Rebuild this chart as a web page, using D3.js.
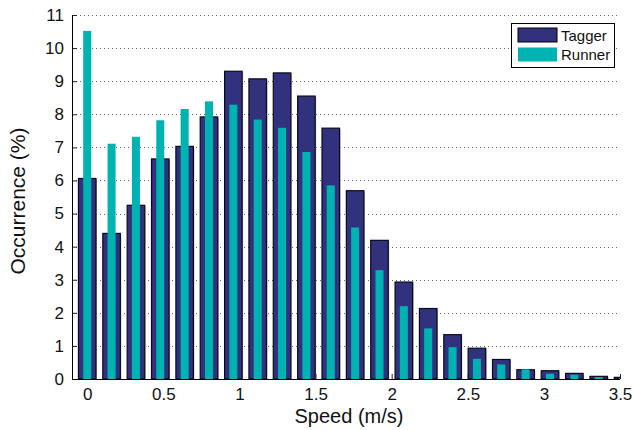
<!DOCTYPE html>
<html>
<head>
<meta charset="utf-8">
<script src="https://cdn.jsdelivr.net/npm/d3@7"></script>
<style>
  body { margin: 0; background: #fff; }
  text { font-family: "Liberation Sans", Arial, sans-serif; }
</style>
</head>
<body>
<script>
// bin centres (m/s)
var speeds = [0, 0.16, 0.32, 0.48, 0.64, 0.8, 0.96, 1.12, 1.28, 1.44, 1.6, 1.76,
              1.92, 2.08, 2.24, 2.4, 2.56, 2.72, 2.88, 3.04, 3.2, 3.36, 3.52];
var tagger = [6.06, 4.40, 5.25, 6.65, 7.03, 7.92, 9.30, 9.07, 9.25, 8.55, 7.58, 5.69,
              4.19, 2.93, 2.13, 1.34, 0.93, 0.59, 0.28, 0.25, 0.17, 0.08, 0.05];
var runner = [10.52, 7.11, 7.32, 7.82, 8.16, 8.39, 8.29, 7.84, 7.59, 6.86, 5.85, 4.58,
              3.29, 2.20, 1.53, 0.96, 0.61, 0.44, 0.29, 0.16, 0.13, 0.06, 0.03];
var xTicks = [0, 0.5, 1, 1.5, 2, 2.5, 3, 3.5];
var yTicks = [0, 1, 2, 3, 4, 5, 6, 7, 8, 9, 10, 11];
var seriesNames = ["Tagger", "Runner"];

var W = 634, H = 430;
var margin = {top: 15, right: 14, bottom: 51, left: 72};
var width = W - margin.left - margin.right;
var height = H - margin.top - margin.bottom;

var colors = {Tagger: "#32317e", Runner: "#00b3b3"};

var svg = d3.select("body").append("svg")
    .attr("width", W)
    .attr("height", H);

var g = svg.append("g")
    .attr("transform", "translate(" + margin.left + "," + margin.top + ")");

var xScale = d3.scaleLinear().domain([-0.1, 3.5]).range([0, width]);
var yScale = d3.scaleLinear().domain([0, 11]).range([height, 0]);

g.append("clipPath").attr("id", "plotclip")
  .append("rect").attr("width", width).attr("height", height + 2).attr("y", -1);

// dotted horizontal grid
g.append("g").selectAll("line")
    .data(yTicks.slice(1))
    .enter().append("line")
    .attr("x1", 0).attr("x2", width)
    .attr("y1", function(d) { return Math.round(yScale(d)) + 0.5; })
    .attr("y2", function(d) { return Math.round(yScale(d)) + 0.5; })
    .attr("stroke", "#666")
    .attr("stroke-dasharray", "1,3");

// axes (ticks inward, under the bars)
var xAxis = d3.axisBottom(xScale).tickValues(xTicks).tickSizeInner(-5).tickSizeOuter(0)
    .tickPadding(9).tickFormat(function(d) { return String(d); });
var yAxis = d3.axisLeft(yScale).tickValues(yTicks).tickSizeInner(-5).tickSizeOuter(0)
    .tickPadding(8).tickFormat(function(d) { return String(d); });

var xg = g.append("g").attr("transform", "translate(0," + height + ")").call(xAxis);
var yg = g.append("g").call(yAxis);
[xg, yg].forEach(function(a) {
  a.selectAll("text").attr("font-size", 17).attr("fill", "#111")
    .attr("font-family", "Liberation Sans, Arial, sans-serif");
  a.selectAll("line").attr("stroke", "#222");
  a.select(".domain").remove();
});

var bw = xScale(0.16) - xScale(0);
var bars = g.append("g").attr("clip-path", "url(#plotclip)");

// Tagger: wide bars with black edge
bars.selectAll("rect.shadow")
    .data(tagger)
    .enter().append("rect")
    .attr("class", "shadow")
    .attr("x", function(d, i) { return xScale(speeds[i]) - bw * 0.36 + 1; })
    .attr("y", function(d) { return yScale(d) + 1; })
    .attr("width", bw * 0.72)
    .attr("height", function(d) { return height - yScale(d) - 1; })
    .attr("fill", "#b5b5b5");

bars.selectAll("rect.tagger")
    .data(tagger)
    .enter().append("rect")
    .attr("class", "tagger")
    .attr("x", function(d, i) { return xScale(speeds[i]) - bw * 0.36; })
    .attr("y", function(d) { return yScale(d); })
    .attr("width", bw * 0.72)
    .attr("height", function(d) { return height - yScale(d); })
    .attr("fill", colors.Tagger)
    .attr("stroke", "#0a0a1a")
    .attr("stroke-width", 1.2);

// Runner: narrow bars on the same centres
bars.selectAll("rect.runner")
    .data(runner)
    .enter().append("rect")
    .attr("class", "runner")
    .attr("x", function(d, i) { return xScale(speeds[i]) - bw * 0.165; })
    .attr("y", function(d) { return yScale(d); })
    .attr("width", bw * 0.33)
    .attr("height", function(d) { return height - yScale(d); })
    .attr("fill", colors.Runner);

// axis lines on the left and bottom
g.append("line").attr("x1", 0.5).attr("x2", 0.5).attr("y1", 0).attr("y2", height + 0.5)
    .attr("stroke", "#000");
g.append("line").attr("x1", 0).attr("x2", width).attr("y1", height + 0.5).attr("y2", height + 0.5)
    .attr("stroke", "#000");

// axis titles
svg.append("text")
    .attr("x", margin.left + width / 2 + 3)
    .attr("y", 423)
    .attr("text-anchor", "middle")
    .attr("font-size", 20)
    .attr("fill", "#111")
    .text("Speed (m/s)");

svg.append("text")
    .attr("transform", "translate(25,201) rotate(-90)")
    .attr("text-anchor", "middle")
    .attr("font-size", 21)
    .attr("fill", "#111")
    .text("Occurrence (%)");

// legend
var leg = svg.append("g").attr("transform", "translate(511,23)");
leg.append("rect")
    .attr("x", 0.5).attr("y", 0.5).attr("width", 103).attr("height", 44)
    .attr("fill", "#fff").attr("stroke", "#000");
var items = leg.selectAll("g.item").data(seriesNames).enter().append("g")
    .attr("transform", function(d, i) { return "translate(7," + (5 + i * 19.5) + ")"; });
items.append("rect")
    .attr("width", 39).attr("height", 14)
    .attr("fill", function(d) { return colors[d]; })
    .attr("stroke", function(d) { return d === "Tagger" ? "#000" : "none"; });
items.append("text")
    .attr("x", 43).attr("y", 12.5)
    .attr("font-size", 15)
    .attr("fill", "#111")
    .text(function(d) { return d; });
</script>
</body>
</html>
